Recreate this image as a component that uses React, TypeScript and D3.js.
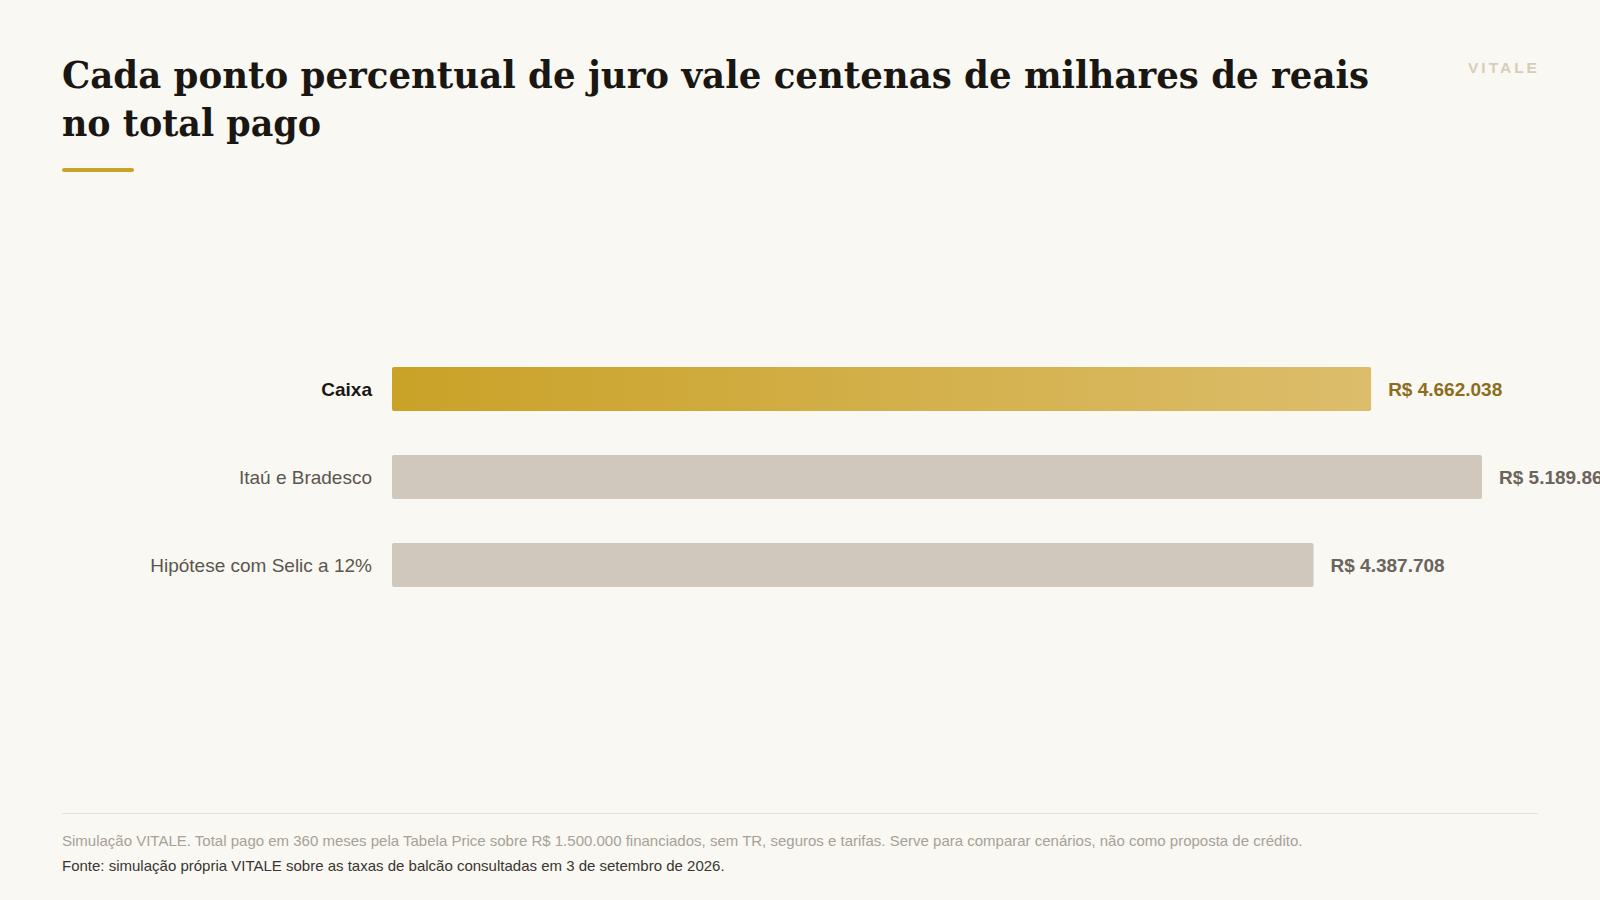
import * as d3 from "d3"

const categories = ["Caixa", "Itaú e Bradesco", "Hipótese com Selic a 12%"]
const totals = [4662038, 5189864, 4387708]
const highlight = "Caixa"

const titleLines = ["Cada ponto percentual de juro vale centenas de milhares de reais", "no total pago"]
const note =
  "Simulação VITALE. Total pago em 360 meses pela Tabela Price sobre R$ 1.500.000 financiados, sem TR, seguros e tarifas. Serve para comparar cenários, não como proposta de crédito."
const source = "Fonte: simulação própria VITALE sobre as taxas de balcão consultadas em 3 de setembro de 2026."

const W = 1600
const H = 900
const sans = "'Liberation Sans', Arial, Helvetica, sans-serif"
const serif = "'DejaVu Serif', Georgia, serif"

const brl = d3.formatLocale({
  decimal: ",",
  thousands: ".",
  grouping: [3],
  currency: ["R$ ", ""],
}).format("$,.0f")

export default function App() {
  const rows = categories.map((c, i) => ({ name: c, value: totals[i] }))

  const x = d3
    .scaleLinear()
    .domain([0, d3.max(totals) as number])
    .range([392, 1482])

  const y = d3.scaleBand().domain(categories).range([323, 631]).padding(0.5)

  return (
    <>
      <style>{`body{margin:0;background:#f9f8f3}`}</style>
      <svg width={W} height={H} style={{ display: "block", background: "#f9f8f3" }}>
        <defs>
          <linearGradient id="gold" x1="0%" x2="100%" y1="0%" y2="0%">
            <stop offset="0%" stopColor="#c9a227" />
            <stop offset="100%" stopColor="#dcbd6b" />
          </linearGradient>
        </defs>

        {/* title */}
        <text x={62} y={88} fontFamily={serif} fontWeight={700} fontSize={38} fill="#1a1713" textLength={1307} lengthAdjust="spacingAndGlyphs">
          {titleLines[0]}
        </text>
        <text x={62} y={136} fontFamily={serif} fontWeight={700} fontSize={38} fill="#1a1713" textLength={259} lengthAdjust="spacingAndGlyphs">
          {titleLines[1]}
        </text>
        <rect x={62} y={168} width={72} height={4} rx={2} fill="#c9a227" />

        <text x={1468} y={73} fontFamily={sans} fontWeight={700} fontSize={15.5} letterSpacing={3} fill="#d8cdb8">
          VITALE
        </text>

        {/* bars */}
        {rows.map((d) => {
          const hi = d.name === highlight
          const yy = y(d.name) as number
          const cy = yy + y.bandwidth() / 2
          return (
            <g key={d.name}>
              <text
                x={372}
                y={cy}
                dy="0.36em"
                textAnchor="end"
                fontFamily={sans}
                fontSize={19}
                fontWeight={hi ? 700 : 400}
                fill={hi ? "#1a1713" : "#5c554e"}
              >
                {d.name}
              </text>
              <rect
                x={x(0)}
                y={yy}
                width={x(d.value) - x(0)}
                height={y.bandwidth()}
                rx={2}
                fill={hi ? "url(#gold)" : "#d0c8bc"}
              />
              <text
                x={x(d.value) + 17}
                y={cy}
                dy="0.36em"
                fontFamily={sans}
                fontSize={19}
                fontWeight={700}
                fill={hi ? "#8c6d1e" : "#6b645c"}
              >
                {brl(d.value)}
              </text>
            </g>
          )
        })}

        {/* footer */}
        <line x1={62} x2={1538} y1={813.5} y2={813.5} stroke="#e5e1d6" strokeWidth={1} />
        <text x={62} y={846} fontFamily={sans} fontSize={15} fill="#a8a196">
          {note}
        </text>
        <text x={62} y={871} fontFamily={sans} fontSize={15} fill="#3a3530">
          {source}
        </text>
      </svg>
    </>
  )
}
